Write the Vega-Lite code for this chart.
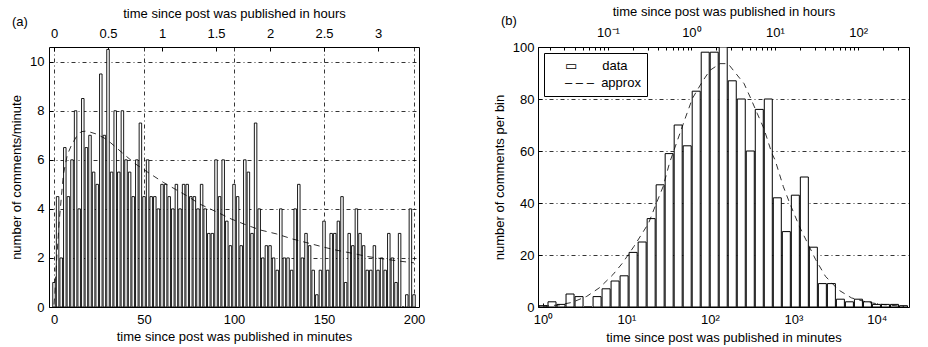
{
  "$schema": "https://vega.github.io/schema/vega-lite/v6.json",
  "background": "white",
  "padding": {"left": 10, "top": 4, "right": 5, "bottom": 2},
  "config": {
    "font": "Liberation Sans",
    "view": {"stroke": "black", "strokeWidth": 1},
    "concat": {"spacing": 66},
    "axis": {
      "labelFont": "Liberation Sans", "titleFont": "Liberation Sans",
      "labelFontSize": 13, "titleFontSize": 13, "titleFontWeight": "normal",
      "labelColor": "black", "titleColor": "black",
      "domain": false, "tickColor": "black", "tickSize": -4, "tickWidth": 1,
      "labelPadding": 9, "titlePadding": 5,
      "grid": false, "gridColor": "black", "gridDash": [4, 3, 1, 3], "gridWidth": 0.8, "gridOpacity": 1,
      "labelFlush": false, "labelOverlap": false
    }
  },
  "resolve": {"scale": {"opacity": "independent"}, "legend": {"opacity": "independent"}},
  "datasets": {
    "a_bars": [
      {"minute": 0, "rate": 1.0}, {"minute": 2, "rate": 4.5}, {"minute": 4, "rate": 2.0}, {"minute": 6, "rate": 6.5},
      {"minute": 8, "rate": 4.5}, {"minute": 10, "rate": 6.0}, {"minute": 12, "rate": 8.0}, {"minute": 14, "rate": 4.0},
      {"minute": 16, "rate": 8.5}, {"minute": 18, "rate": 6.5}, {"minute": 20, "rate": 7.0}, {"minute": 22, "rate": 5.5},
      {"minute": 24, "rate": 5.0}, {"minute": 26, "rate": 9.5}, {"minute": 28, "rate": 7.0}, {"minute": 30, "rate": 10.5},
      {"minute": 32, "rate": 5.5}, {"minute": 34, "rate": 8.0}, {"minute": 36, "rate": 5.5}, {"minute": 38, "rate": 8.0},
      {"minute": 40, "rate": 6.0}, {"minute": 42, "rate": 5.5}, {"minute": 44, "rate": 4.5}, {"minute": 46, "rate": 6.0},
      {"minute": 48, "rate": 7.5}, {"minute": 50, "rate": 4.5}, {"minute": 52, "rate": 6.0}, {"minute": 54, "rate": 4.5},
      {"minute": 56, "rate": 4.5}, {"minute": 58, "rate": 4.0}, {"minute": 60, "rate": 5.0}, {"minute": 62, "rate": 5.0},
      {"minute": 64, "rate": 4.5}, {"minute": 66, "rate": 4.0}, {"minute": 68, "rate": 5.0}, {"minute": 70, "rate": 4.0},
      {"minute": 72, "rate": 5.0}, {"minute": 74, "rate": 5.0}, {"minute": 76, "rate": 4.5}, {"minute": 78, "rate": 4.5},
      {"minute": 80, "rate": 4.0}, {"minute": 82, "rate": 5.0}, {"minute": 84, "rate": 4.0}, {"minute": 86, "rate": 3.0},
      {"minute": 88, "rate": 3.0}, {"minute": 90, "rate": 6.0}, {"minute": 92, "rate": 4.5}, {"minute": 94, "rate": 6.0},
      {"minute": 96, "rate": 3.5}, {"minute": 98, "rate": 2.5}, {"minute": 100, "rate": 5.0}, {"minute": 102, "rate": 4.5},
      {"minute": 104, "rate": 2.5}, {"minute": 106, "rate": 6.0}, {"minute": 108, "rate": 5.5}, {"minute": 110, "rate": 3.0},
      {"minute": 112, "rate": 7.5}, {"minute": 114, "rate": 4.0}, {"minute": 116, "rate": 2.0}, {"minute": 118, "rate": 2.5},
      {"minute": 120, "rate": 2.5}, {"minute": 122, "rate": 2.0}, {"minute": 124, "rate": 1.5}, {"minute": 126, "rate": 4.0},
      {"minute": 128, "rate": 2.0}, {"minute": 130, "rate": 2.0}, {"minute": 132, "rate": 1.5}, {"minute": 134, "rate": 4.0},
      {"minute": 136, "rate": 5.0}, {"minute": 138, "rate": 2.0}, {"minute": 140, "rate": 3.0}, {"minute": 142, "rate": 2.5},
      {"minute": 144, "rate": 1.5}, {"minute": 146, "rate": 0.5}, {"minute": 148, "rate": 1.5}, {"minute": 150, "rate": 3.5},
      {"minute": 152, "rate": 1.5}, {"minute": 154, "rate": 3.0}, {"minute": 156, "rate": 3.0}, {"minute": 158, "rate": 3.5},
      {"minute": 160, "rate": 4.5}, {"minute": 162, "rate": 1.0}, {"minute": 164, "rate": 3.0}, {"minute": 166, "rate": 2.5},
      {"minute": 168, "rate": 4.0}, {"minute": 170, "rate": 3.0}, {"minute": 172, "rate": 2.5}, {"minute": 174, "rate": 1.5},
      {"minute": 176, "rate": 1.5}, {"minute": 178, "rate": 2.5}, {"minute": 180, "rate": 1.5}, {"minute": 182, "rate": 2.0},
      {"minute": 184, "rate": 1.5}, {"minute": 186, "rate": 3.0}, {"minute": 188, "rate": 2.0}, {"minute": 190, "rate": 1.0},
      {"minute": 192, "rate": 3.0}, {"minute": 194, "rate": 0}, {"minute": 196, "rate": 0.5}, {"minute": 198, "rate": 4.0},
      {"minute": 200, "rate": 0.5}
    ],
    "a_fit": [
      {"minute": 0, "rate": 0.1}, {"minute": 0.5, "rate": 0.6}, {"minute": 1.1, "rate": 1.5}, {"minute": 2.9, "rate": 3.5},
      {"minute": 5.2, "rate": 5.4}, {"minute": 7.4, "rate": 6.2}, {"minute": 9.7, "rate": 6.6}, {"minute": 12.5, "rate": 6.95},
      {"minute": 15.1, "rate": 7.15}, {"minute": 17.8, "rate": 7.17}, {"minute": 20.5, "rate": 7.12}, {"minute": 23.2, "rate": 7.06},
      {"minute": 27.7, "rate": 6.9}, {"minute": 31.4, "rate": 6.7}, {"minute": 37.7, "rate": 6.3}, {"minute": 44.9, "rate": 5.85},
      {"minute": 53, "rate": 5.45}, {"minute": 61, "rate": 5.07}, {"minute": 67.4, "rate": 4.8}, {"minute": 74.6, "rate": 4.5},
      {"minute": 80.9, "rate": 4.2}, {"minute": 90.8, "rate": 3.86}, {"minute": 98.4, "rate": 3.59}, {"minute": 105.6, "rate": 3.38},
      {"minute": 114.6, "rate": 3.14}, {"minute": 123.6, "rate": 2.98}, {"minute": 132.6, "rate": 2.77}, {"minute": 141.6, "rate": 2.6},
      {"minute": 148.8, "rate": 2.46}, {"minute": 156, "rate": 2.33}, {"minute": 165, "rate": 2.2}, {"minute": 174, "rate": 2.06},
      {"minute": 183, "rate": 1.96}, {"minute": 192, "rate": 1.87}, {"minute": 200, "rate": 1.8}
    ],
    "b_bars": [
      {"minute": 1, "count": 0.5}, {"minute": 1.282, "count": 2}, {"minute": 1.644, "count": 1}, {"minute": 2.109, "count": 5},
      {"minute": 2.704, "count": 4}, {"minute": 3.467, "count": 0}, {"minute": 4.446, "count": 4}, {"minute": 5.702, "count": 7},
      {"minute": 7.311, "count": 10}, {"minute": 9.376, "count": 12}, {"minute": 12.02, "count": 21}, {"minute": 15.42, "count": 25},
      {"minute": 19.77, "count": 34}, {"minute": 25.35, "count": 47}, {"minute": 32.51, "count": 59}, {"minute": 41.69, "count": 70},
      {"minute": 53.46, "count": 62}, {"minute": 68.55, "count": 83}, {"minute": 87.9, "count": 98}, {"minute": 112.7, "count": 98},
      {"minute": 144.5, "count": 100}, {"minute": 185.4, "count": 87}, {"minute": 237.7, "count": 80}, {"minute": 304.8, "count": 60},
      {"minute": 390.8, "count": 76}, {"minute": 501.2, "count": 80}, {"minute": 642.7, "count": 42}, {"minute": 824.1, "count": 29},
      {"minute": 1056.8, "count": 43}, {"minute": 1355, "count": 50}, {"minute": 1738, "count": 23}, {"minute": 2228, "count": 9},
      {"minute": 2858, "count": 9}, {"minute": 3664, "count": 3}, {"minute": 4699, "count": 2}, {"minute": 6026, "count": 3},
      {"minute": 7727, "count": 2}, {"minute": 9908, "count": 1}, {"minute": 12706, "count": 1}, {"minute": 16293, "count": 1},
      {"minute": 20893, "count": 0.5}
    ],
    "b_fit": [
      {"minute": 1, "count": 0.3}, {"minute": 1.58, "count": 0.8}, {"minute": 2.24, "count": 1.8}, {"minute": 3.35, "count": 4.1},
      {"minute": 4.79, "count": 7.5}, {"minute": 6.87, "count": 12.4}, {"minute": 8.97, "count": 16.9}, {"minute": 12.3, "count": 23.3},
      {"minute": 18.4, "count": 32.2}, {"minute": 22.0, "count": 38.6}, {"minute": 27.5, "count": 46.3}, {"minute": 32.9, "count": 55.5},
      {"minute": 51.3, "count": 73.1}, {"minute": 61.7, "count": 80.2}, {"minute": 80.5, "count": 86.5}, {"minute": 100, "count": 91},
      {"minute": 132, "count": 93.6}, {"minute": 165, "count": 93.6}, {"minute": 198, "count": 90.4}, {"minute": 257, "count": 85.9},
      {"minute": 309, "count": 80.2}, {"minute": 370, "count": 74.4}, {"minute": 443, "count": 68.7}, {"minute": 553, "count": 59.1},
      {"minute": 605, "count": 56.5}, {"minute": 759, "count": 46.3}, {"minute": 906, "count": 39.9}, {"minute": 1186, "count": 30.9},
      {"minute": 1419, "count": 25.8}, {"minute": 1853, "count": 18.2}, {"minute": 2427, "count": 11.8}, {"minute": 3467, "count": 6.6},
      {"minute": 4977, "count": 3.5}, {"minute": 7762, "count": 1.8}, {"minute": 12190, "count": 0.9}, {"minute": 19950, "count": 0.3},
      {"minute": 21200, "count": 0.25}
    ]
  },
  "hconcat": [
    {
      "width": 370,
      "height": 260,
      "title": {"text": "(a)", "anchor": "start", "frame": "group", "orient": "top", "offset": 0, "dx": -37, "dy": 22, "fontSize": 13, "fontWeight": "normal", "font": "Liberation Sans", "color": "black"},
      "layer": [
        {
          "data": {"name": "a_bars"},
          "mark": {"type": "bar", "width": 2.5, "fill": "white", "stroke": "black", "strokeWidth": 0.9, "clip": true},
          "encoding": {
            "x": {"field": "minute", "type": "quantitative", "scale": {"domain": [0, 200], "nice": false, "zero": false},
              "axis": {"orient": "bottom", "values": [0, 50, 100, 150, 200], "title": "time since post was published in minutes", "grid": true, "labelPadding": 10, "titlePadding": 4}},
            "y": {"field": "rate", "type": "quantitative", "scale": {"domain": [0, 10.6], "nice": false},
              "axis": {"values": [0, 2, 4, 6, 8, 10], "title": "number of comments/minute", "grid": true, "labelPadding": 9, "titlePadding": 6}}
          }
        },
        {
          "data": {"name": "a_fit"},
          "mark": {"type": "line", "color": "black", "strokeDash": [6, 5], "strokeWidth": 0.8, "clip": true},
          "encoding": {
            "x": {"field": "minute", "type": "quantitative", "scale": {"domain": [0, 200], "nice": false, "zero": false},
              "axis": {"orient": "top", "values": [0, 30, 60, 90, 120, 150, 180], "labelExpr": "'' + (datum.value / 60)", "title": "time since post was published in hours", "grid": false, "labelPadding": 11, "titlePadding": 7}},
            "y": {"field": "rate", "type": "quantitative", "scale": {"domain": [0, 10.6], "nice": false},
              "axis": {"values": [0, 2, 4, 6, 8, 10], "title": "number of comments/minute", "grid": true, "labelPadding": 9, "titlePadding": 6}}
          }
        }
      ],
      "resolve": {"axis": {"x": "independent"}}
    },
    {
      "width": 371,
      "height": 260,
      "title": {"text": "(b)", "anchor": "start", "frame": "group", "orient": "top", "offset": 0, "dx": -37, "dy": 23, "fontSize": 13, "fontWeight": "normal", "font": "Liberation Sans", "color": "black"},
      "layer": [
        {
          "data": {"name": "b_bars"},
          "mark": {"type": "bar", "width": 8, "fill": "white", "stroke": "black", "strokeWidth": 1, "clip": true},
          "encoding": {
            "x": {"field": "minute", "type": "quantitative", "scale": {"type": "log", "domain": [1, 21200], "nice": false},
              "axis": {"orient": "bottom", "values": [1, 10, 100, 1000, 10000], "labelExpr": "datum.value == 1 ? '10⁰' : datum.value == 10 ? '10¹' : datum.value == 100 ? '10²' : datum.value == 1000 ? '10³' : '10⁴'", "title": "time since post was published in minutes", "grid": false, "labelPadding": 10, "titlePadding": 5}},
            "y": {"field": "count", "type": "quantitative", "scale": {"domain": [0, 100], "nice": false},
              "axis": {"values": [0, 20, 40, 60, 80, 100], "title": "number of comments per bin", "grid": true, "labelPadding": 8, "titlePadding": 6}},
            "opacity": {"datum": "data", "type": "nominal",
              "scale": {"domain": ["data", "approx"], "range": [1, 1]},
              "legend": {"orient": "top-left", "offset": 6, "title": null, "fillColor": "white", "strokeColor": "black", "padding": 6,
                "labelFontSize": 13, "labelColor": "black", "labelFont": "Liberation Sans",
                "symbolSize": 0, "symbolOpacity": 0, "symbolFillColor": "white", "labelOffset": 2, "rowPadding": 3,
                "labelExpr": "datum.label === 'data' ? '▭\u00a0\u00a0\u00a0\u00a0\u00a0\u00a0\u00a0data' : '– – –\u00a0\u00a0approx'"}}
          }
        },
        {
          "data": {"name": "b_fit"},
          "mark": {"type": "line", "color": "black", "strokeWidth": 0.8, "strokeDash": [6, 5], "clip": true},
          "encoding": {
            "x": {"field": "minute", "type": "quantitative", "scale": {"type": "log", "domain": [1, 21200], "nice": false},
              "axis": {"orient": "top", "values": [1.2, 1.8, 2.4, 3, 3.6, 4.2, 4.8, 5.4, 6, 12, 18, 24, 30, 36, 42, 48, 54, 60, 120, 180, 240, 300, 360, 420, 480, 540, 600, 1200, 1800, 2400, 3000, 3600, 4200, 4800, 5400, 6000, 12000, 18000],
                "labelExpr": "datum.value == 6 ? '10⁻¹' : datum.value == 60 ? '10⁰' : datum.value == 600 ? '10¹' : datum.value == 6000 ? '10²' : ''",
                "tickSize": -3, "title": "time since post was published in hours", "grid": false, "labelPadding": 11, "titlePadding": 8}},
            "y": {"field": "count", "type": "quantitative", "scale": {"domain": [0, 100], "nice": false},
              "axis": {"values": [0, 20, 40, 60, 80, 100], "title": "number of comments per bin", "grid": true, "labelPadding": 8, "titlePadding": 6}},
            "opacity": {"datum": "approx", "type": "nominal"}
          }
        }
      ],
      "resolve": {"axis": {"x": "independent"}}
    }
  ]
}
